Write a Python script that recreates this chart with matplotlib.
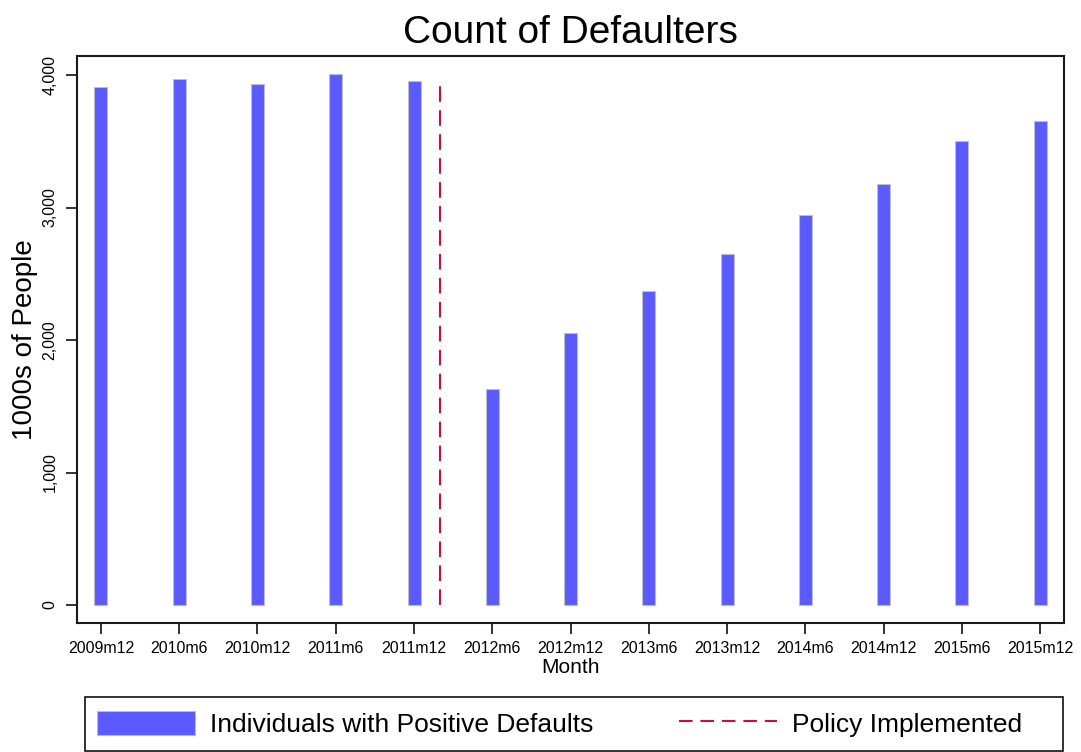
import matplotlib
matplotlib.use("Agg")
import matplotlib.pyplot as plt
from matplotlib.lines import Line2D
from matplotlib.patches import Patch, Rectangle

# ---- data ----
months = ["2009m12", "2010m6", "2010m12", "2011m6", "2011m12", "2012m6", "2012m12",
          "2013m6", "2013m12", "2014m6", "2014m12", "2015m6", "2015m12"]
defaulters = [3909, 3972, 3930, 4010, 3952, 1628, 2050, 2372, 2647, 2943, 3175, 3502, 3653]
policy_month = "2012m2"
policy_height = 3968
y_ticks = [0, 1000, 2000, 3000, 4000]
y_tick_labels = ["0", "1,000", "2,000", "3,000", "4,000"]


def month_index(label):
    y, m = label.split("m")
    return int(y) * 12 + int(m) - (2009 * 12 + 12)


x = [month_index(m) for m in months]
x_policy = month_index(policy_month)

plt.rcParams["font.family"] = ["Liberation Sans", "DejaVu Sans"]

W, H = 1081, 752
fig = plt.figure(figsize=(W / 100, H / 100), dpi=100)
ax = fig.add_axes([76.7 / W, 1 - 623.3 / H, (1064.3 - 76.7) / W, (623.3 - 55.7) / H])

bar_color = "#5a5aff"
line_color = "#c8103c"

ax.bar(x, defaulters, width=1.0, color=bar_color, edgecolor="#bdbdcc", linewidth=0.8, zorder=2)
ax.plot([x_policy, x_policy], [0, policy_height], color=line_color, linewidth=1.5,
        dashes=(7.5, 4), zorder=3)

ax.set_xlim(-1.86, 73.85)
ax.set_ylim(-138, 4146)

ax.set_xticks(x)
ax.set_xticklabels(months, fontsize=11.5)
ax.set_yticks(y_ticks)
ax.set_yticklabels(y_tick_labels, fontsize=11.5, rotation=90, va="center")

ax.tick_params(axis="both", direction="out", length=8, width=1.3, color="#222222")
ax.tick_params(axis="x", pad=5)
ax.tick_params(axis="y", pad=6)

for sp in ax.spines.values():
    sp.set_linewidth(1.5)
    sp.set_color("#1a1a1a")

ax.set_xlabel("Month", fontsize=15, labelpad=1)
ax.set_ylabel("1000s of People", fontsize=20, labelpad=3)
ax.set_title("Count of Defaulters", fontsize=28, pad=9)

# legend frame box
fig.patches.append(Rectangle((85 / W, 1 - 751 / H), (1063 - 85) / W, (751 - 697) / H,
                             transform=fig.transFigure, facecolor="white",
                             edgecolor="#111111", linewidth=1.2, zorder=1))

handles = [Patch(facecolor=bar_color, edgecolor="#bdbdcc", linewidth=0.8),
           Line2D([0], [0], color=line_color, linewidth=1.5, dashes=(6.5, 3.8))]
labels = ["Individuals with Positive Defaults", "Policy Implemented"]
leg = fig.legend(handles, labels, loc="center left", bbox_to_anchor=(72 / W, 1 - 724 / H),
                 ncol=2, fontsize=19, frameon=False,
                 handlelength=3.7, handleheight=1.06,
                 handletextpad=0.57, columnspacing=3.25, borderpad=0.45)
leg.set_zorder(2)

fig.savefig("out.png", dpi=100)
